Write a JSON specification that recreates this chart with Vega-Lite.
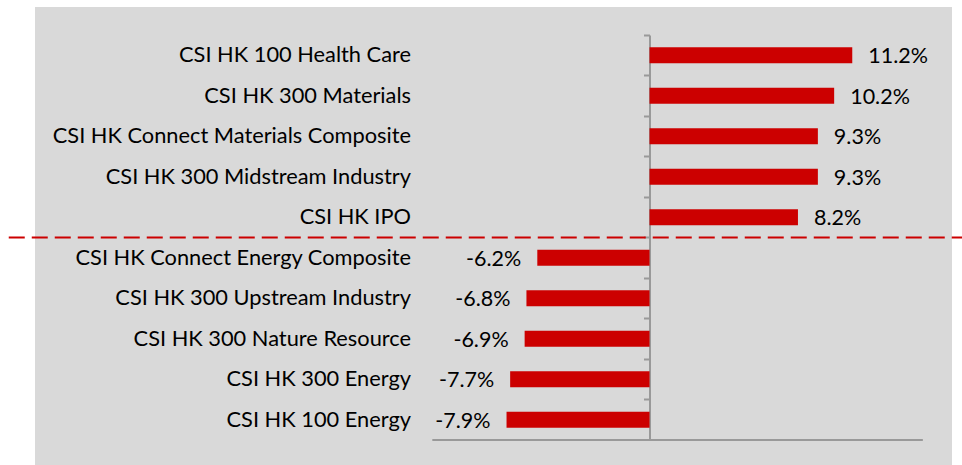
{
  "$schema": "https://vega.github.io/schema/vega-lite/v6.json",
  "width": 917,
  "height": 458,
  "autosize": {"type": "none"},
  "padding": {"left": 35, "top": 7, "right": 10, "bottom": 0},
  "background": "white",
  "config": {
    "view": {"fill": "#d9d9d9", "stroke": null},
    "font": "Lato",
    "text": {"font": "Lato"},
    "locale": {"number": {"decimal": ".", "thousands": ",", "grouping": [3], "currency": ["$", ""], "minus": "-"}}
  },
  "data": {
    "values": [
      {"cat": "CSI HK 100 Health Care", "value": 0.112},
      {"cat": "CSI HK 300 Materials", "value": 0.102},
      {"cat": "CSI HK Connect Materials Composite", "value": 0.093},
      {"cat": "CSI HK 300 Midstream Industry", "value": 0.093},
      {"cat": "CSI HK IPO", "value": 0.082},
      {"cat": "CSI HK Connect Energy Composite", "value": -0.062},
      {"cat": "CSI HK 300 Upstream Industry", "value": -0.068},
      {"cat": "CSI HK 300 Nature Resource", "value": -0.069},
      {"cat": "CSI HK 300 Energy", "value": -0.077},
      {"cat": "CSI HK 100 Energy", "value": -0.079}
    ]
  },
  "encoding": {
    "y": {
      "field": "cat",
      "type": "nominal",
      "sort": null,
      "scale": {"range": [28, 433], "paddingInner": 0.6, "paddingOuter": 0.3},
      "axis": {
        "title": null,
        "offset": -614.5,
        "domainColor": "#999999",
        "domainWidth": 2,
        "tickColor": "#999999",
        "tickWidth": 2,
        "tickSize": 6,
        "bandPosition": -0.75,
        "labelPadding": 233,
        "labelFont": "Lato",
        "labelFontSize": 21.8,
        "labelColor": "#000000",
        "labelLimit": 0
      }
    }
  },
  "layer": [
    {
      "mark": {"type": "bar", "color": "#cc0000"},
      "encoding": {
        "x": {
          "field": "value",
          "type": "quantitative",
          "scale": {"domain": [-0.3395, 0.1671], "nice": false, "zero": false},
          "axis": null
        }
      }
    },
    {
      "transform": [{"filter": "datum.value > 0"}],
      "mark": {"type": "text", "align": "left", "baseline": "middle", "dx": 16, "dy": 2, "fontSize": 21.5, "color": "#000000"},
      "encoding": {
        "x": {"field": "value", "type": "quantitative"},
        "text": {"field": "value", "type": "quantitative", "format": ".1%"}
      }
    },
    {
      "transform": [{"filter": "datum.value < 0"}],
      "mark": {"type": "text", "align": "right", "baseline": "middle", "dx": -16, "dy": 2, "fontSize": 21.5, "color": "#000000"},
      "encoding": {
        "x": {"field": "value", "type": "quantitative"},
        "text": {"field": "value", "type": "quantitative", "format": ".1%"}
      }
    },
    {
      "data": {"values": [{"cat": "CSI HK 100 Energy"}]},
      "mark": {"type": "rule", "color": "#999999", "strokeWidth": 2},
      "encoding": {
        "x": {"datum": -0.12, "type": "quantitative"},
        "x2": {"datum": 0.151},
        "y": {"field": "cat", "type": "nominal", "bandPosition": 1.75}
      }
    },
    {
      "data": {"values": [{"cat": "CSI HK IPO"}]},
      "mark": {"type": "rule", "color": "#cc0000", "strokeWidth": 2, "strokeDash": [16, 7], "yOffset": 20.25},
      "encoding": {
        "x": {"datum": -0.354, "type": "quantitative"},
        "x2": {"datum": 0.1727},
        "y": {"field": "cat", "type": "nominal"}
      }
    }
  ]
}
